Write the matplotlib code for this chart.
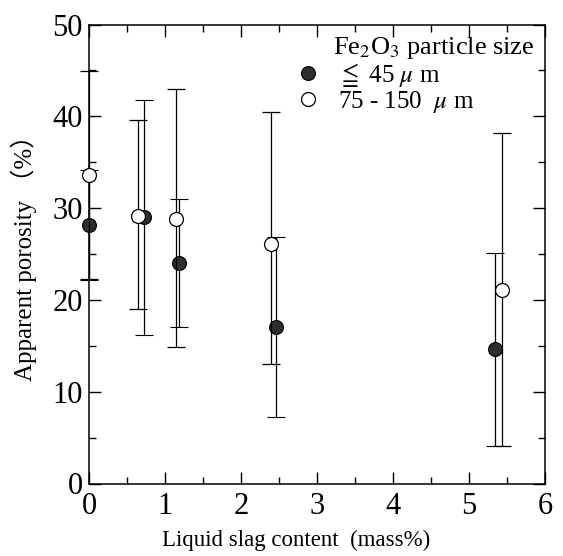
import matplotlib
matplotlib.use("Agg")
import matplotlib.pyplot as plt
from matplotlib.lines import Line2D
from matplotlib.ticker import MultipleLocator

plt.rcParams['font.family'] = ['Liberation Serif', 'Noto Sans CJK JP', 'DejaVu Serif']
plt.rcParams['mathtext.fontset'] = 'stix'

# Data: Fe2O3 <= 45 um (filled)
slag_fine = [0.0, 0.72, 1.18, 2.46, 5.34]
por_fine = [28.2, 29.0, 24.0, 17.05, 14.6]
err_fine = [6.0, 12.8, 7.0, 9.8, 10.5]

# Data: Fe2O3 75-150 um (open)
slag_coarse = [0.0, 0.65, 1.14, 2.39, 5.43]
por_coarse = [33.6, 29.1, 28.8, 26.1, 21.1]
err_coarse_lo = [11.3, 10.1, 13.9, 13.1, 17.0]
err_coarse_hi = [11.3, 10.5, 14.2, 14.4, 17.1]

legend_title = "Fe$_2$O$_3$ particle size"
label_fine = r"$\leqq$ 45 $\mu$ m"
label_coarse = r"75 - 150  $\mu$ m"

fig = plt.figure(figsize=(5.63, 5.56), dpi=100)
ax = fig.add_axes([89/563, (556-483.5)/556, (545-89)/563, (483.5-24.5)/556])

c1 = ax.errorbar(slag_fine, por_fine, yerr=err_fine, fmt='o', ms=10,
                 mfc='#2e2e2e', mec='black', mew=0.8, ecolor='black',
                 elinewidth=0.9, capsize=6.5, capthick=0.9, zorder=3)
c2 = ax.errorbar(slag_coarse, por_coarse, yerr=[err_coarse_lo, err_coarse_hi], fmt='o', ms=10,
                 mfc='white', mec='black', mew=0.9, ecolor='black',
                 elinewidth=0.9, capsize=6.5, capthick=0.9, zorder=4)
for cont in (c1, c2):
    for art in cont.get_children():
        art.set_clip_on(False)

ax.set_xlim(0, 6)
ax.set_ylim(0, 50)
ax.xaxis.set_major_locator(MultipleLocator(1))
ax.xaxis.set_minor_locator(MultipleLocator(0.5))
ax.yaxis.set_major_locator(MultipleLocator(10))
ax.yaxis.set_minor_locator(MultipleLocator(5))
ax.tick_params(which='both', direction='in', top=True, right=True, width=1.0)
ax.tick_params(which='major', length=8.5, labelsize=22)
ax.tick_params(axis='x', which='major', pad=6)
ax.tick_params(axis='y', which='major', pad=4.5)
ax.tick_params(which='minor', length=5)
for s in ax.spines.values():
    s.set_linewidth(1.1)

ax.set_xlabel("Liquid slag content  (mass%)", fontsize=16.5)
ax.xaxis.set_label_coords(0.455, -0.100)
ax.set_ylabel("Apparent porosity （%）", fontsize=18)
ax.yaxis.set_label_coords(-0.115, 0.505)

ax.text(0.535, 0.935, legend_title, transform=ax.transAxes, fontsize=19,
        ha='left', va='baseline')
handles = [Line2D([], [], marker='o', ls='none', ms=10, mfc='#2e2e2e', mec='black', mew=0.8),
           Line2D([], [], marker='o', ls='none', ms=10, mfc='white', mec='black', mew=0.9)]
leg = ax.legend(handles, [label_fine, label_coarse],
                loc='upper left', bbox_to_anchor=(0.452, 0.921), frameon=False,
                fontsize=18, handletextpad=0.7, handlelength=1.0,
                labelspacing=0.0, borderaxespad=0, borderpad=0)

fig.savefig("out.png", dpi=100)
